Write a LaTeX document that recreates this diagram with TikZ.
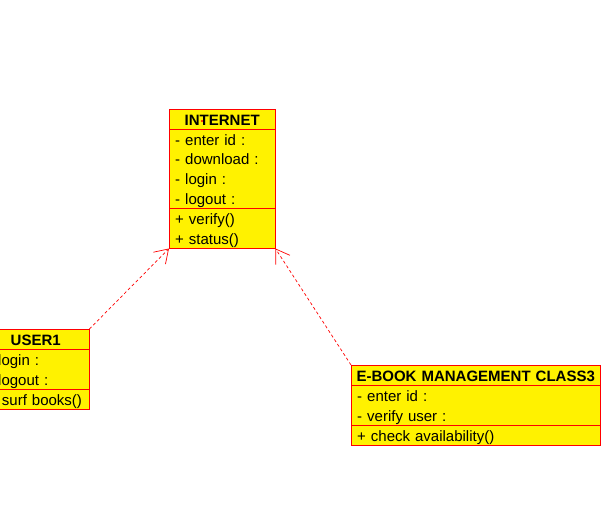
\documentclass[tikz,border=0pt]{standalone}
\usepackage{fontspec}
\setmainfont{Liberation Sans}
\usetikzlibrary{
  shapes.multipart,
  positioning,
  arrows.meta,
  }

\newcommand{\rowstrut}{\rule[-3.9pt]{0pt}{19.7pt}}
\tikzset{
  umlclass/.style={rectangle split, rectangle split parts=3, draw=red, fill=yellow,
    inner xsep=6pt, inner ysep=0pt, align=left,
    font=\fontsize{15}{19.7}\selectfont},
  realize/.style={draw=red, line width=0.7pt, dash pattern=on 3pt off 2.5pt,
    -{Straight Barb[length=13pt, width=17pt]}},
}

\begin{document}
\begin{tikzpicture}[x=1pt, y=-1pt]
                \useasboundingbox (0,0) rectangle (602,505);
                \node[umlclass, text width=94pt, anchor=north west] (internet) at (169,109)
                    {\rowstrut\makebox[\hsize]{\textbf{INTERNET}}
                    \nodepart{second}\rowstrut- enter id :\\- download :\\- login :\\- logout :\rowstrut
                    \nodepart{third}\rowstrut+ verify()\\+ status()\rowstrut};
                \node[umlclass, text width=95pt, anchor=north west] (user1) at (-18,329)
                    {\rowstrut\makebox[\hsize]{\textbf{USER1}}
                    \nodepart{second}\rowstrut- login :\\- logout :\rowstrut
                    \nodepart{third}\rowstrut+ surf books()\rowstrut};
                \node[umlclass, text width=241pt, inner xsep=4pt, anchor=north west] (ebook) at (351,365)
                    {\rowstrut\makebox[\hsize]{\textbf{E-BOOK MANAGEMENT CLASS3}}
                    \nodepart{second}\hspace*{2pt}\rowstrut- enter id :\\\hspace*{2pt}- verify user :\rowstrut
                    \nodepart{third}\hspace*{2pt}\rowstrut+ check availability()\rowstrut};
                
                \draw[realize] (user1.north east) -- (internet.south west);
                \draw[realize] (ebook.north west) -- (internet.south east);
                \fill[red] (202,121) circle (1.2pt);
            
            \end{tikzpicture}
\end{document}
